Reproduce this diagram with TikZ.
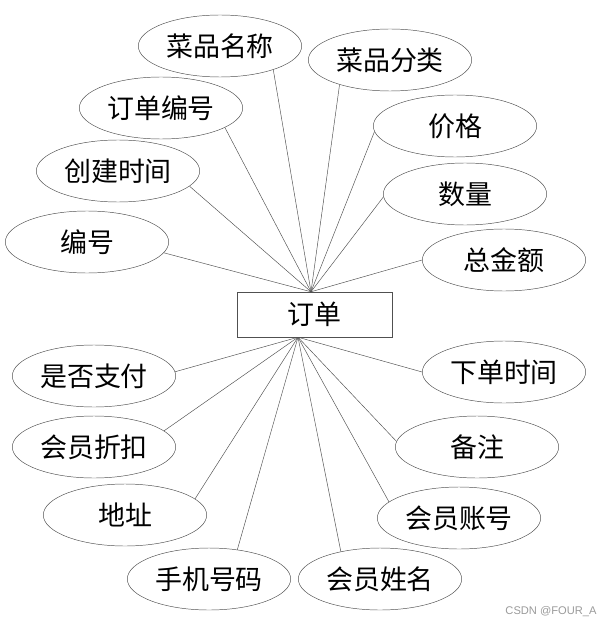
\documentclass[tikz,border=0pt]{standalone}
\usepackage{fontspec}
\newfontfamily\cjk{Noto Sans CJK SC}
\newfontfamily\wmfont{Liberation Sans}
\usetikzlibrary{shapes.geometric}
\definecolor{edge-gray}{HTML}{505050}
\definecolor{mark-gray}{HTML}{9A9A9A}

\begin{document}
\begin{tikzpicture}[x=0.3mm, y=-0.3mm,
    attr/.style={draw=edge-gray, ellipse, inner sep=0pt, minimum width=49mm,
                 minimum height=18.6mm, font=\cjk\fontsize{23}{27}\selectfont},
    entity/.style={draw=edge-gray, rectangle, inner sep=0pt, minimum width=46.5mm,
                   minimum height=13.5mm, font=\cjk\fontsize{23}{27}\selectfont},
    link/.style={draw=edge-gray, line width=0.4pt}]
    \useasboundingbox (0,0) rectangle (609,628);

    % entity
    \node[entity] (order) at (314.5,314.5) {订单};
    \coordinate (top) at ([xshift=-1.05mm]order.north);
    \coordinate (bottom) at ([xshift=-4.95mm]order.south);

    % attributes above
    \node[attr] (dishname) at (220,46) {菜品名称};
    \node[attr] (dishtype) at (390,60) {菜品分类};
    \node[attr] (orderno) at (161,108) {订单编号};
    \node[attr] (price) at (455,126) {价格};
    \node[attr] (created) at (118,171) {创建时间};
    \node[attr] (amount) at (465,194) {数量};
    \node[attr] (id) at (87,242) {编号};
    \node[attr] (total) at (504,260) {总金额};

    % attributes below
    \node[attr] (paid) at (94,376) {是否支付};
    \node[attr] (ordertime) at (504,372) {下单时间};
    \node[attr] (discount) at (94,447) {会员折扣};
    \node[attr] (remark) at (477,447) {备注};
    \node[attr] (address) at (125,515) {地址};
    \node[attr] (account) at (459,518) {会员账号};
    \node[attr] (phone) at (209,579) {手机号码};
    \node[attr] (member) at (380,579) {会员姓名};

    \foreach \n/\a in {id/-8, created/-12, orderno/-17, dishname/-24,
                       dishtype/206, price/184, amount/182, total/180}
      \draw[link] (\n.\a) -- (top);
    \foreach \n/\a in {paid/3, discount/13, address/13, phone/46,
                       member/145, account/167, remark/176, ordertime/180}
      \draw[link] (\n.\a) -- (bottom);

    \node[font=\wmfont\fontsize{9.5}{11}\selectfont, text=mark-gray] (mark)
      at (551,612) {CSDN @FOUR\_A};
\end{tikzpicture}
\end{document}
